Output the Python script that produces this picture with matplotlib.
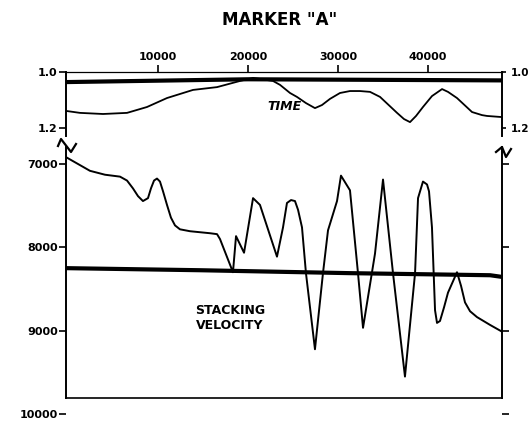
import matplotlib
matplotlib.use("Agg")
import matplotlib.pyplot as plt
from matplotlib.lines import Line2D

# shot-point offset along the line (ft) and the picked values
time_x = [-220, 1330, 3890, 6560, 8780, 11000, 13890, 16560, 19110, 20560,
          22780, 23560, 24670, 25440, 26440, 27440, 28220, 29110, 30220,
          31330, 32440, 33560, 34670, 36560, 37330, 38000, 38670, 39440,
          40440, 41560, 42220, 43220, 44890, 46000, 46560, 48220]
time_s = [1.139, 1.146, 1.150, 1.146, 1.125, 1.093, 1.064, 1.054, 1.032, 1.021,
          1.032, 1.046, 1.075, 1.089, 1.111, 1.129, 1.118, 1.096, 1.075,
          1.068, 1.068, 1.071, 1.089, 1.146, 1.168, 1.179, 1.157, 1.125,
          1.086, 1.061, 1.071, 1.093, 1.143, 1.154, 1.157, 1.161]

time_ref_x = [-220, 20000, 48220]
time_ref_s = [1.036, 1.026, 1.030]

vel_x = [-220, 1110, 2440, 4110, 5780, 6560, 7220, 7780, 8330, 8890,
         9220, 9560, 9890, 10220, 10560, 11000, 11440, 11890, 12440, 13560,
         14670, 15780, 16560, 16890, 18330, 18670, 19560, 20560, 21330,
         23220, 23890, 24330, 24780, 25220, 25560, 26000, 26440, 27440,
         28330, 28890, 29890, 30330, 31330, 32220, 32780, 34110, 35000,
         36110, 37440, 38560, 38890, 39440, 39890, 40110, 40440, 40780,
         41000, 41330, 41780, 42220, 43220, 43670, 44110, 44670, 45440,
         46890, 48220]
vel_v = [6918, 7000, 7082, 7129, 7152, 7199, 7293, 7386, 7445, 7410,
         7293, 7199, 7175, 7211, 7328, 7491, 7644, 7737, 7784, 7807,
         7819, 7831, 7842, 7901, 8299, 7866, 8065, 7410, 7491,
         8112, 7761, 7468, 7433, 7445, 7550, 7761, 8310, 9223,
         8310, 7796, 7445, 7140, 7316, 8310, 8966, 8076, 7187,
         8310, 9551, 8310, 7410, 7211, 7246, 7328, 7761, 8755,
         8907, 8884, 8720, 8544, 8299, 8463, 8661, 8767, 8837,
         8931, 9012]

vel_ref_x = [-220, 14700, 31300, 46900, 48220]
vel_ref_v = [8250, 8275, 8310, 8335, 8355]

x_ticks = [10000, 20000, 30000, 40000]
time_ticks = [1.0, 1.2]
vel_ticks = [7000, 8000, 9000, 10000]

plt.rcParams["font.family"] = "DejaVu Sans"
plt.rcParams["font.weight"] = "bold"

W, H = 528, 424


def px_box(l, t, r, b):
    return [l / W, 1 - b / H, (r - l) / W, (b - t) / H]


fig = plt.figure(figsize=(W / 100, H / 100), dpi=100)

# upper strip: two-way time
ax_t = fig.add_axes(px_box(66, 72, 502, 136))
ax_t.plot(time_ref_x, time_ref_s, color="black", lw=3.0, solid_capstyle="butt")
ax_t.plot(time_x, time_s, color="black", lw=1.3)
ax_t.set_xlim(-220, 48220)
ax_t.set_ylim(1.2286, 1.0)
ax_t.spines["bottom"].set_visible(False)
ax_t.spines["top"].set_linewidth(0.9)
ax_t.spines["left"].set_linewidth(1.4)
ax_t.spines["right"].set_linewidth(1.4)
ax_t.xaxis.tick_top()
ax_t.set_xticks(x_ticks)
ax_t.set_xticklabels([str(v) for v in x_ticks])
ax_t.set_yticks(time_ticks)
ax_t.set_yticklabels(["1.0", "1.2"])
ax_t.tick_params(axis="x", top=True, bottom=False, labelsize=8, length=5,
                 width=1.2, pad=2)
ax_t.tick_params(axis="y", left=True, right=True, labelleft=True,
                 labelright=True, labelsize=8, length=5, width=1.2, pad=1)
# shorter ticks and smaller labels on the right so they stay on the page
for t in ax_t.yaxis.get_major_ticks():
    t.tick2line.set_markersize(3)
    t.label2.set_fontsize(7.5)
ax_t.text(24000, 1.125, "TIME", ha="center", va="center", fontsize=9,
          fontstyle="italic", fontweight="bold")

# lower strip: stacking velocity
ax_v = fig.add_axes(px_box(66, 147.3, 502, 414))
ax_v.plot(vel_ref_x, vel_ref_v, color="black", lw=3.0, solid_capstyle="butt")
ax_v.plot(vel_x, vel_v, color="black", lw=1.4)
ax_v.set_xlim(-220, 48220)
ax_v.set_ylim(10000, 6800)
ax_v.spines["top"].set_visible(False)
ax_v.spines["bottom"].set_position(("data", 9808))
ax_v.spines["bottom"].set_linewidth(1.2)
for side in ("left", "right"):
    ax_v.spines[side].set_bounds(6800, 9808)
    ax_v.spines[side].set_linewidth(1.4)
ax_v.set_xticks([])
ax_v.set_yticks(vel_ticks)
ax_v.set_yticklabels([str(v) for v in vel_ticks])
ax_v.tick_params(axis="y", left=True, right=True, labelleft=True,
                 labelright=False, labelsize=8, length=5, width=1.2, pad=1)
ax_v.text(18000, 8850, "STACKING\nVELOCITY", ha="center", va="center",
          fontsize=9, fontweight="bold", linespacing=1.15)

# break marks between the two strips
for pts in ([(58, 146), (61, 139), (71, 152), (76, 144)],
            [(496, 152), (502, 147), (506, 157), (511, 149)]):
    xs = [p[0] / W for p in pts]
    ys = [1 - p[1] / H for p in pts]
    fig.add_artist(Line2D(xs, ys, color="black", lw=1.6,
                          transform=fig.transFigure))

fig.text(280 / W, 1 - 20 / H, 'MARKER "A"', ha="center", va="center",
         fontsize=12, fontweight="heavy")

fig.savefig("out.png", dpi=100)
